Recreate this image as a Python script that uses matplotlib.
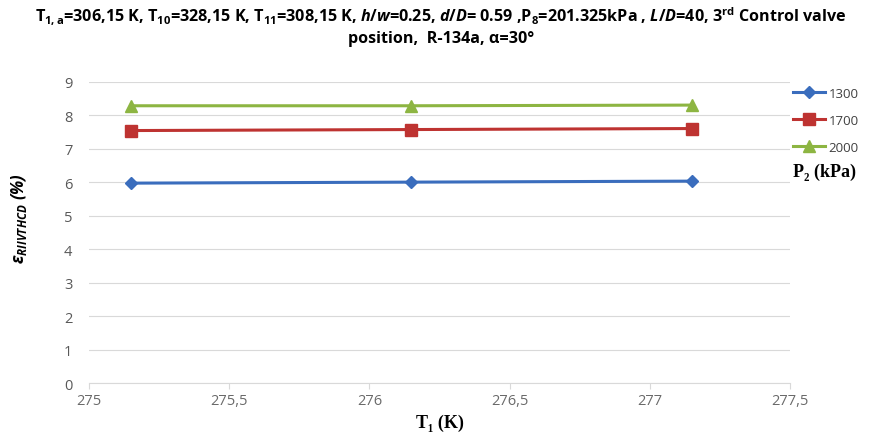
import matplotlib
matplotlib.use("Agg")
import matplotlib.pyplot as plt
from matplotlib.ticker import FuncFormatter, MultipleLocator

plt.rcParams['mathtext.fontset'] = 'custom'
plt.rcParams['mathtext.rm'] = 'Open Sans:bold'
plt.rcParams['mathtext.it'] = 'Open Sans:italic:bold'
plt.rcParams['mathtext.bf'] = 'Open Sans:bold'

# Data
t1 = [275.15, 276.15, 277.15]
series_labels = ['1300', '1700', '2000']
eps_1300 = [5.97, 6.00, 6.03]
eps_1700 = [7.54, 7.57, 7.60]
eps_2000 = [8.28, 8.28, 8.30]
colors = ['#3A6DBD', '#BE3331', '#8DB542']
markers = ['D', 's', '^']
msizes = [6, 8.5, 8]

fig = plt.figure(figsize=(8.72, 4.35), dpi=100)
ax = fig.add_axes([0.102, 0.117, 0.804, 0.693])

for y, lab, c, m, ms in zip([eps_1300, eps_1700, eps_2000], series_labels, colors, markers, msizes):
    ax.plot(t1, y, color=c, marker=m, markersize=ms, linewidth=2.2, label=lab)

ax.set_xlim(275, 277.5)
ax.set_ylim(0, 9)
ax.xaxis.set_major_locator(MultipleLocator(0.5))
ax.yaxis.set_major_locator(MultipleLocator(1))
ax.xaxis.set_major_formatter(FuncFormatter(lambda v, p: ('%g' % v).replace('.', ',')))
ax.grid(axis='y', color='#D9D9D9', linewidth=0.8)
for s in ['top', 'right', 'left']:
    ax.spines[s].set_visible(False)
ax.spines['bottom'].set_color('#D9D9D9')
ax.tick_params(axis='y', length=0, labelsize=10.5, labelcolor='#595959', pad=12)
ax.tick_params(axis='x', length=4, color='#D9D9D9', labelsize=10.5, labelcolor='#6a6a6a', pad=3)
for lbl in ax.get_xticklabels() + ax.get_yticklabels():
    lbl.set_family('Open Sans')

ax.set_xlabel('T₁ (K)', family=['Liberation Serif', 'DejaVu Serif'], fontweight='bold', fontsize=13, labelpad=4)
ax.set_ylabel(r'$\varepsilon_{RIIVTHCD}$ (%)', family='Open Sans', fontweight='bold', style='italic', fontsize=12)
ax.yaxis.set_label_coords(-0.085, 0.55)

leg = ax.legend(loc='upper left', bbox_to_anchor=(0.996, 1.0), frameon=False, fontsize=9.5,
                handlelength=2.5, labelspacing=1.05, handletextpad=0.25, borderaxespad=0)
for t in leg.get_texts():
    t.set_family('Open Sans')
    t.set_color('#404040')
fig.text(0.909, 0.604, 'P₂ (kPa)', family=['Liberation Serif', 'DejaVu Serif'], fontweight='bold', fontsize=13, ha='left', va='center')

title = (r'T$_{\mathrm{1,a}}$=306,15 K, T$_{\mathrm{10}}$=328,15 K, T$_{\mathrm{11}}$=308,15 K, '
         r'$h/w$=0.25, $d/D$= 0.59 ,P$_{\mathrm{8}}$=201.325kPa , $L/D$=40, 3$^{\mathrm{rd}}$ Control valve'
         '\nposition,  R-134a, α=30°')
fig.text(0.506, 0.988, title, ha='center', va='top', family='Open Sans', fontweight='bold', fontsize=11.6, linespacing=1.3)

fig.savefig('out.png', dpi=100)
